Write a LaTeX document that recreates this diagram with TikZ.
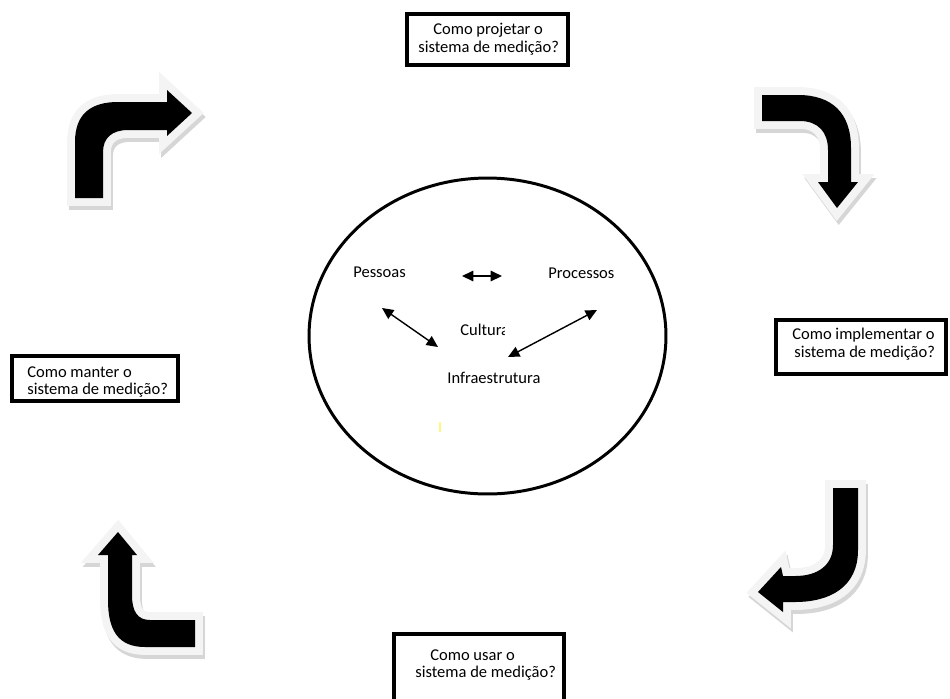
\documentclass[tikz,border=0pt]{standalone}
\usepackage{fontspec}
\setmainfont{Carlito}
\usetikzlibrary{arrows.meta,fit,shapes.geometric}
\begin{document}
\begin{tikzpicture}[x=0.02cm,y=-0.02cm,
 qbox/.style={draw=black, line width=2.3pt, inner sep=0pt},
 qtext/.style={anchor=west, inner sep=0pt, font=\fontsize{9.4}{11}\selectfont},
 rel/.style={line width=0.8pt, {Triangle[length=6.5pt,width=6pt]}-{Triangle[length=6.5pt,width=6pt]}},
 arrshadow/.style={draw=gray!32, fill=gray!32, line width=9pt, line join=miter},
 arrglow/.style={draw=gray!9, fill=gray!9, line width=9pt, line join=miter},
 arrbody/.style={fill=black},
]
\useasboundingbox (0,0) rectangle (950,698);
\newcommand{\blockarrow}[1]{%
  \draw[arrshadow, shift={(2,4)}] #1;
  \draw[arrglow] #1;
  \fill[arrbody] #1;}

% question boxes
\node[qbox, fit={(407,14) (568,65)}] (q1) {};
\node[qtext] (q1a) at (433,30) {Como projetar o};
\node[qtext] (q1b) at (418,48) {sistema de medição?};

\node[qbox, fit={(776,320) (946,374)}] (q2) {};
\node[qtext] (q2a) at (792,335) {Como implementar o};
\node[qtext] (q2b) at (794,353) {sistema de medição?};

\node[qbox, fit={(394,634) (564,710)}] (q3) {};
\node[qtext] (q3a) at (430,655) {Como usar o};
\node[qtext] (q3b) at (415,673) {sistema de medição?};

\node[qbox, fit={(12,356) (178,401)}] (q4) {};
\node[qtext] (q4a) at (27,372) {Como manter o};
\node[qtext] (q4b) at (27,390) {sistema de medição?};

% central ellipse
\node[draw, ellipse, line width=1.7pt, inner sep=0pt, minimum width=7.14cm, minimum height=6.32cm] (core) at (487.5,336) {};
\node[qtext] (pes) at (353,272) {Pessoas};
\node[qtext] (pro) at (548,273) {Processos};
\node[qtext] (inf) at (447,378) {Infraestrutura};
\begin{scope}
  \clip (440,310) rectangle (504,350);
  \node[qtext] (cul) at (460,330) {Cultura};
\end{scope}
\draw[yellow!50, line width=0.6pt] (440,422) -- (440,432);

\coordinate (h1) at (462,276);
\coordinate (h2) at (502,276);
\coordinate (d1) at (382,308);
\coordinate (d2) at (438,347);
\coordinate (e1) at (597,310);
\coordinate (e2) at (508,357);
\draw[rel] (h1) -- (h2);
\draw[rel] (d1) -- (d2);
\draw[rel] (e1) -- (e2);

% curved block arrows
\blockarrow{(75,198) -- (75,142) .. controls (75,113) and (92,102) .. (118,102) -- (167,102) -- (167,90) -- (192,113) -- (167,136) -- (167,130) -- (128,130) .. controls (112,130) and (103,138) .. (103,152) -- (103,198) -- cycle}
\blockarrow{(762,95) -- (798,95) .. controls (832,95) and (851,113) .. (851,148) -- (851,182) -- (858,182) -- (837,208) -- (818,182) -- (828,182) -- (828,150) .. controls (828,132) and (818,121) .. (800,121) -- (762,121) -- cycle}
\blockarrow{(833,488) -- (858,488) -- (858,550) .. controls (858,587) and (830,602) .. (795,602) -- (783,602) -- (783,612) -- (758,592) -- (781,567) -- (783,576) -- (795,576) .. controls (818,576) and (833,565) .. (833,545) -- cycle}
\blockarrow{(195,620) -- (195,647) -- (145,647) .. controls (118,647) and (108,630) .. (108,600) -- (108,555) -- (98,555) -- (118,532) -- (137,555) -- (132,555) -- (132,595) .. controls (132,612) and (138,620) .. (150,620) -- cycle}
\end{tikzpicture}
\end{document}
